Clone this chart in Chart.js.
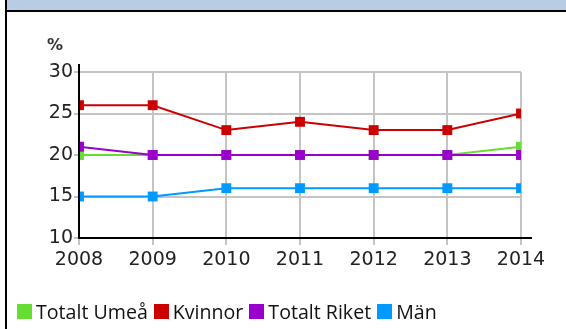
<!DOCTYPE html>
<html>
<head>
<meta charset="utf-8">
<script src="https://cdn.jsdelivr.net/npm/chart.js@4/dist/chart.umd.min.js"></script>
<style>
  html, body { margin: 0; padding: 0; background: #fff; }
  #frame { position: relative; width: 566px; height: 329px; overflow: hidden; background: #fff; }
  #band { position: absolute; left: 7px; top: 0; width: 559px; height: 10px; background: #b8cce4; border-bottom: 2px solid #000; }
  #edge { position: absolute; left: 5px; top: 0; width: 2px; height: 329px; background: #000; }
  #unit { position: absolute; left: 47px; top: 35px; font: bold 16px "DejaVu Sans", sans-serif; color: #333; }
  #chart { position: absolute; left: 0; top: 0; }
  #legend { position: absolute; left: 17px; top: 298px; display: flex; align-items: center;
            font: 19.6px "Open Sans", sans-serif; color: #111; white-space: nowrap; }
  #legend .item { display: flex; align-items: center; margin-right: 6px; }
  #legend .box { width: 15px; height: 15px; margin-right: 4px; }
</style>
</head>
<body>
<div id="frame">
  <div id="band"></div>
  <div id="edge"></div>
  <canvas id="chart" width="566" height="329"></canvas>
  <div id="unit">%</div>
  <div id="legend"></div>
</div>
<script>
// Years on the x axis
const years = [2008, 2009, 2010, 2011, 2012, 2013, 2014];
// Share (%) per series and year
const totaltUmea  = [20, 20, 20, 20, 20, 20, 21];
const kvinnor     = [26, 26, 23, 24, 23, 23, 25];
const totaltRiket = [21, 20, 20, 20, 20, 20, 20];
const man         = [15, 15, 16, 16, 16, 16, 16];
// Y axis range and tick step
const yTicks = [10, 15, 20, 25, 30];

const seriesNames  = ['Totalt Umeå', 'Kvinnor', 'Totalt Riket', 'Män'];
const seriesData   = [totaltUmea, kvinnor, totaltRiket, man];
const seriesColors = ['#66dd33', '#cc0000', '#9900cc', '#0099ff'];
const seriesOrder  = [1, 0, 0, 0];

const datasets = seriesNames.map((name, i) => ({
  label: name,
  data: years.map((y, j) => ({ x: y, y: seriesData[i][j] })),
  borderColor: seriesColors[i],
  backgroundColor: seriesColors[i],
  borderWidth: 2,
  pointStyle: 'rect',
  pointRadius: 7,
  pointHoverRadius: 7,
  pointBorderWidth: 0,
  tension: 0,
  clip: 0,
  order: seriesOrder[i]
}));

// Black axis lines, drawn over the series and running a little past the plot
const axisLines = {
  id: 'axisLines',
  afterDatasetsDraw(chart) {
    const { ctx, chartArea: a } = chart;
    ctx.save();
    ctx.strokeStyle = '#000';
    ctx.lineWidth = 2;
    ctx.beginPath();
    ctx.moveTo(a.left, a.top - 8);
    ctx.lineTo(a.left, a.bottom);
    ctx.lineTo(a.right + 11, a.bottom);
    ctx.stroke();
    ctx.restore();
  }
};

new Chart(document.getElementById('chart'), {
  type: 'line',
  data: { datasets },
  plugins: [axisLines],
  options: {
    responsive: false,
    animation: false,
    events: [],
    layout: { padding: { left: 0, right: 45, top: 72, bottom: 0 } },
    plugins: { legend: { display: false }, tooltip: { enabled: false } },
    scales: {
      x: {
        type: 'linear',
        min: years[0],
        max: years[years.length - 1],
        afterBuildTicks(scale) { scale.ticks = years.map(v => ({ value: v })); },
        afterFit(scale) { scale.height = 91; },
        border: { display: false },
        grid: { color: '#c4c4c4', lineWidth: 2, tickLength: 7, drawTicks: true },
        ticks: {
          color: '#222',
          padding: 4,
          maxRotation: 0,
          autoSkip: false,
          font: { family: 'DejaVu Sans', size: 19 },
          callback: v => String(v)
        }
      },
      y: {
        min: yTicks[0],
        max: yTicks[yTicks.length - 1],
        afterBuildTicks(scale) { scale.ticks = yTicks.map(v => ({ value: v })); },
        afterFit(scale) { scale.width = 79; },
        border: { display: false },
        grid: { color: '#c4c4c4', lineWidth: 2, tickLength: 5 },
        ticks: {
          color: '#222',
          padding: 1,
          font: { family: 'DejaVu Sans', size: 19 }
        }
      }
    }
  }
});

// Legend row under the plot
const legend = document.getElementById('legend');
seriesNames.forEach((name, i) => {
  const item = document.createElement('span');
  item.className = 'item';
  const box = document.createElement('span');
  box.className = 'box';
  box.style.background = seriesColors[i];
  const txt = document.createElement('span');
  txt.textContent = name;
  item.appendChild(box);
  item.appendChild(txt);
  legend.appendChild(item);
});
</script>
</body>
</html>
